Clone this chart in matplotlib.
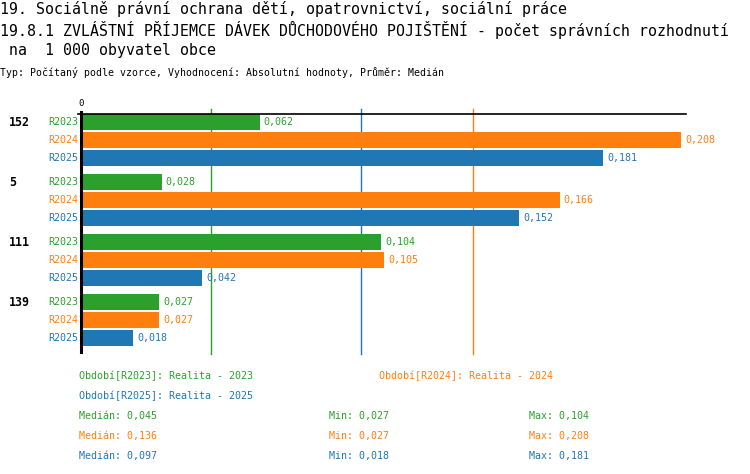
import matplotlib
matplotlib.use("Agg")
import matplotlib.pyplot as plt

# data
groups = ["152", "5", "111", "139"]
periods = ["R2023", "R2024", "R2025"]
values = {
    "R2023": [0.062, 0.028, 0.104, 0.027],
    "R2024": [0.208, 0.166, 0.105, 0.027],
    "R2025": [0.181, 0.152, 0.042, 0.018],
}
medians = {"R2023": 0.045, "R2024": 0.136, "R2025": 0.097}
mins = {"R2023": 0.027, "R2024": 0.027, "R2025": 0.018}
maxs = {"R2023": 0.104, "R2024": 0.208, "R2025": 0.181}
legend_names = {"R2023": "Realita - 2023", "R2024": "Realita - 2024", "R2025": "Realita - 2025"}
colors = {"R2023": "#2ca02c", "R2024": "#ff7f0e", "R2025": "#1f77b4"}

W, H = 750, 474
plt.rcParams["font.family"] = ["DejaVu Sans Mono", "DejaVu Sans"]
fig = plt.figure(figsize=(W / 100, H / 100), dpi=100)


def fx(x):
    return x / W


def fy(y):
    return 1 - y / H


def fmt(v):
    return ("%.3f" % v).replace(".", ",")


# titles
fig.text(fx(0), fy(9), "19. Sociálně právní ochrana dětí, opatrovnictví, sociální práce",
         fontsize=10.7, va="center", ha="left")
fig.text(fx(0), fy(30), "19.8.1 ZVLÁŠTNÍ PŘÍJEMCE DÁVEK DŮCHODOVÉHO POJIŠTĚNÍ - počet správních rozhodnutí",
         fontsize=10.7, va="center", ha="left")
fig.text(fx(0), fy(51), " na  1 000 obyvatel obce", fontsize=10.7, va="center", ha="left")
fig.text(fx(0), fy(73), "Typ: Počítaný podle vzorce, Vyhodnocení: Absolutní hodnoty, Průměr: Medián",
         fontsize=7.1, va="center", ha="left")

# axes: x in value units, y in pixel rows
left, right = 81, 686
top, bottom = 100, 360
ax = fig.add_axes([fx(left), fy(bottom), (right - left) / W, (bottom - top) / H])
scale = 600 / 0.208
ax.set_xlim(0, (right - left) / scale)
ax.set_ylim(bottom, top)
ax.axis("off")

for p in periods:
    ax.plot([medians[p], medians[p]], [109, 354], color=colors[p], lw=1, zorder=1, clip_on=False)

for g, name in enumerate(groups):
    y0 = 122 + 60 * g
    ax.text(-72 / scale, y0, name, fontsize=8.4, fontweight="bold", va="center", ha="left")
    for r, p in enumerate(periods):
        y = y0 + 18 * r
        v = values[p][g]
        ax.barh(y, v, height=16, color=colors[p], zorder=2)
        ax.text(v + 4 / scale, y, fmt(v), color=colors[p], fontsize=7.2, va="center", ha="left")
        ax.text(-3 / scale, y, p, color=colors[p], fontsize=7.2, va="center", ha="right")

ax.plot([0, 0], [112, 352], color="black", lw=2.2, zorder=3, clip_on=False)
ax.plot([-3 / scale, (right - left) / scale], [114, 114], color="black", lw=1.2, zorder=3, clip_on=False)
ax.text(0, 103, "0", fontsize=6.5, va="center", ha="center")

# legend / stats
fig.text(fx(79), fy(376), "Období[R2023]: " + legend_names["R2023"], color=colors["R2023"],
         fontsize=7.2, va="center", ha="left")
fig.text(fx(379), fy(376), "Období[R2024]: " + legend_names["R2024"], color=colors["R2024"],
         fontsize=7.2, va="center", ha="left")
fig.text(fx(79), fy(396), "Období[R2025]: " + legend_names["R2025"], color=colors["R2025"],
         fontsize=7.2, va="center", ha="left")
for i, p in enumerate(periods):
    y = 416 + 20 * i
    fig.text(fx(79), fy(y), "Medián: " + fmt(medians[p]), color=colors[p], fontsize=7.2, va="center")
    fig.text(fx(329), fy(y), "Min: " + fmt(mins[p]), color=colors[p], fontsize=7.2, va="center")
    fig.text(fx(529), fy(y), "Max: " + fmt(maxs[p]), color=colors[p], fontsize=7.2, va="center")

fig.savefig("out.png", dpi=100)
